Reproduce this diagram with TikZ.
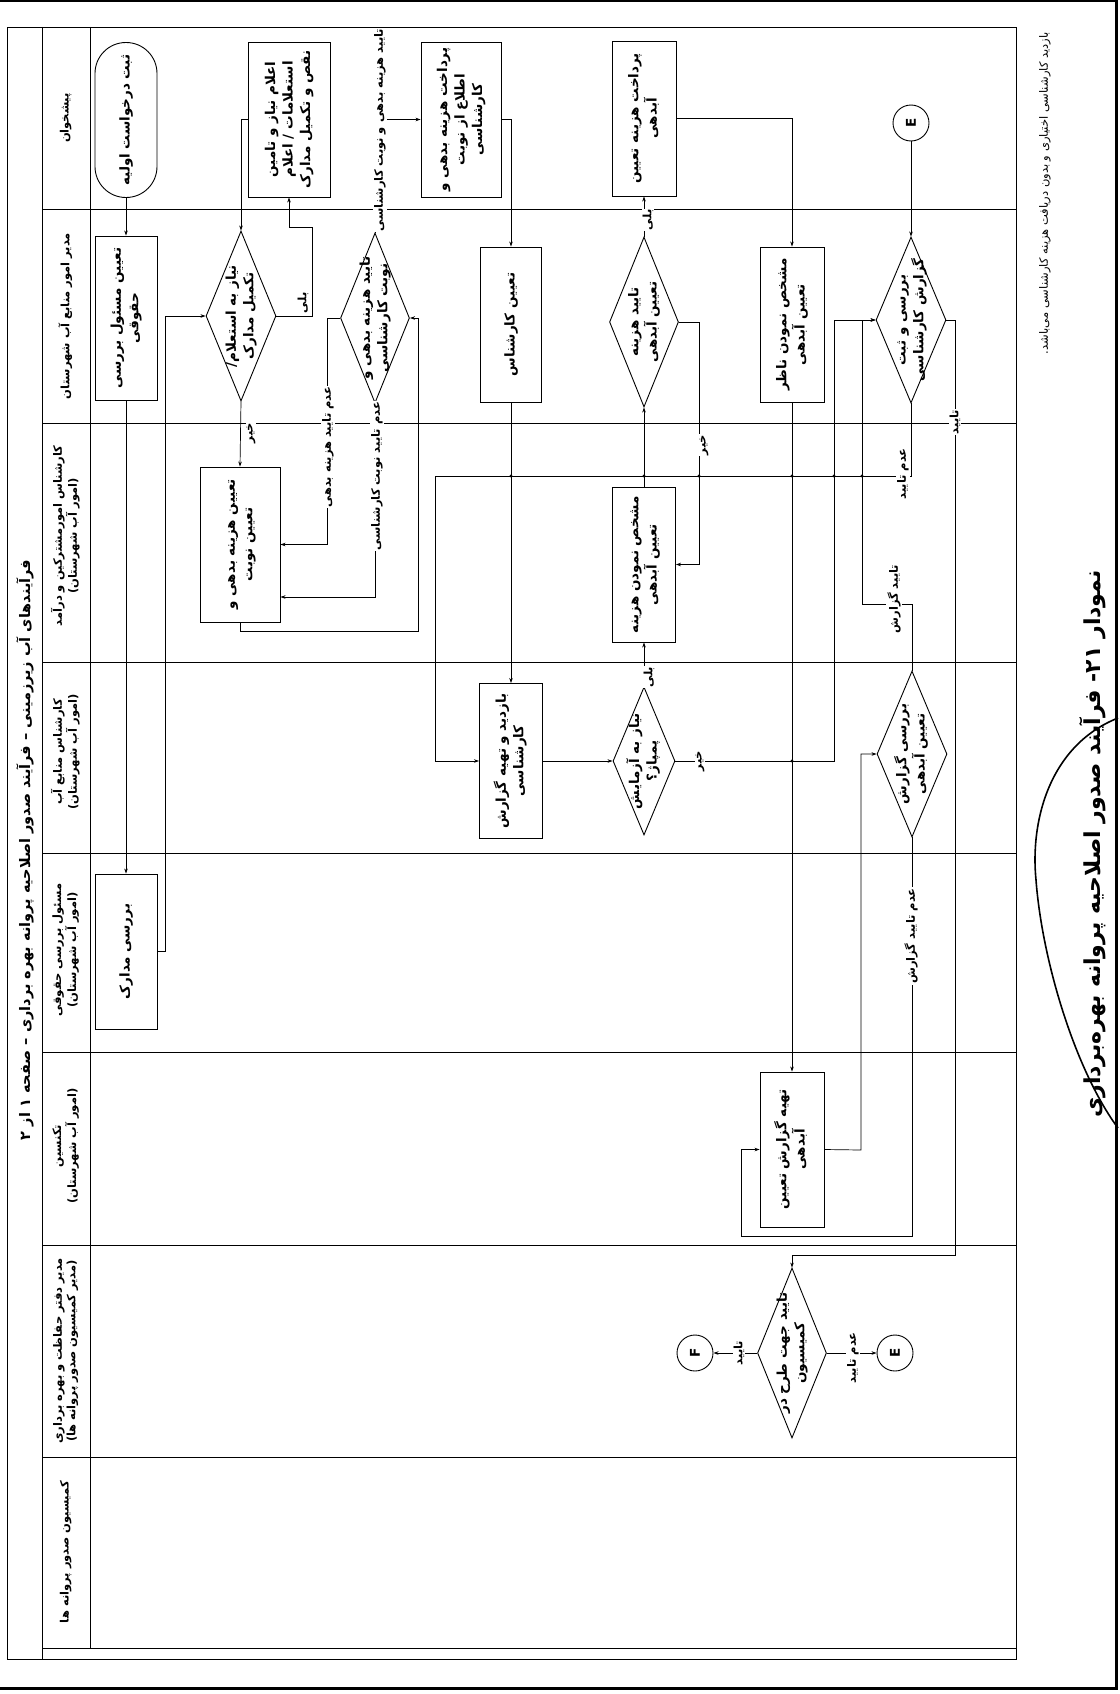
\documentclass[tikz,border=0pt]{standalone}
\usepackage{fontspec}
\usepackage{graphicx}
\usetikzlibrary{shapes.geometric,arrows.meta}
\TeXXeTstate=1
\newfontfamily\fafont[Script=Arabic]{DejaVu Sans}
\newcommand{\fl}[1]{\beginR #1\endR}
\newcommand{\rt}[1]{\rotatebox{90}{\begin{tabular}{@{}c@{}}#1\end{tabular}}}
\newcommand{\boxfont}{\fafont\bfseries\fontsize{13.5}{17.5}\selectfont}
\newcommand{\hdrfont}{\fafont\bfseries\fontsize{11.5}{13.5}\selectfont}
\newcommand{\lblfont}{\fafont\bfseries\fontsize{11.5}{13}\selectfont}
\tikzset{
  frame/.style={line width=0.8pt},
  pageb/.style={line width=3pt},
  box/.style={draw, rectangle, inner sep=0pt, line width=0.9pt},
  dia/.style={draw, diamond, inner sep=0pt, line width=0.9pt},
  cir/.style={draw, circle, minimum size=36pt, inner sep=0pt, line width=0.9pt},
  txt/.style={inner sep=0pt, font=\boxfont},
  hdr/.style={inner sep=0pt, font=\hdrfont},
  lbl/.style={fill=white, inner sep=1pt, font=\lblfont},
  arr/.style={line width=0.7pt, -{Stealth[length=5pt,width=3.5pt]}},
  jdot/.style={fill=black}
}
\begin{document}
\begin{tikzpicture}[x=1pt,y=-1pt]
\useasboundingbox (0,0) rectangle (1119,1694);
% page border
\draw[pageb] (0,1) -- (1116,1) -- (1116,1688) -- (0,1688);
% diagram frame
\draw[frame] (7,27) rectangle (1016,1659);
\draw[frame] (42,27) -- (42,1659);
\draw[frame] (90,27) -- (90,1648);
\foreach \yy in {209,423,662,853,1052,1245,1457,1648}
  \draw[frame] (42,\yy) -- (1016,\yy);
% title
\node[font=\fafont\bfseries\fontsize{14.5}{18}\selectfont, inner sep=0pt] (title) at (25,850)
  {\rotatebox{90}{\fl{فرآیندهای آب زیرزمینی – فرآیند صدور اصلاحیه پروانه بهره برداری – صفحه ۱ از ۲}}};
% lane headers
\node[hdr] (h1) at (66,118) {\rt{\fl{پیشخوان}}};
\node[hdr] (h2) at (66,316) {\rt{\fl{مدیر امور منابع آب شهرستان}}};
\node[hdr] (h3) at (66,536) {\rt{\fl{کارشناس امورمشترکین و درآمد}\\\fl{(امور آب شهرستان)}}};
\node[hdr] (h4) at (66,752) {\rt{\fl{کارشناس منابع آب}\\\fl{(امور آب شهرستان)}}};
\node[hdr] (h5) at (66,950) {\rt{\fl{مسئول بررسی حقوقی}\\\fl{(امور آب شهرستان)}}};
\node[hdr] (h6) at (66,1146) {\rt{\fl{تکنسین}\\\fl{(امور آب شهرستان)}}};
\node[hdr] (h7) at (66,1351) {\rt{\fl{مدیر دفتر حفاظت و بهره برداری}\\\fl{(مدیر کمیسیون صدور پروانه ها)}}};
\node[hdr] (h8) at (66,1552) {\rt{\fl{کمیسیون صدور پروانه ها}}};

% shapes
\node[box, rounded corners=30.9pt, minimum width=62pt, minimum height=155pt] (start) at (126,120) {};
\node[box, minimum width=82pt, minimum height=155pt] (b_req) at (289,119.5) {};
\node[box, minimum width=80pt, minimum height=155pt] (b_pay1) at (461,119.5) {};
\node[box, minimum width=64pt, minimum height=155pt] (b_pay2) at (644,118.5) {};
\node[cir] (cE1) at (911,123) {};
\node[box, minimum width=62pt, minimum height=164pt] (b_assign) at (126,318) {};
\node[dia, minimum width=70pt, minimum height=170pt] (d_need) at (241,316) {};
\node[dia, minimum width=69pt, minimum height=170pt] (d_ok1) at (375,318) {};
\node[box, minimum width=61pt, minimum height=155pt] (b_exp) at (511,324.5) {};
\node[dia, minimum width=69pt, minimum height=170pt] (d_ok2) at (644,322) {};
\node[box, minimum width=64pt, minimum height=155pt] (b_sup) at (792,324.5) {};
\node[dia, minimum width=70pt, minimum height=166pt] (d_reg) at (911,320) {};
\node[box, minimum width=80pt, minimum height=155pt] (b_debt) at (240,544.5) {};
\node[box, minimum width=63pt, minimum height=155pt] (b_cost) at (644,564.5) {};
\node[box, minimum width=63pt, minimum height=155pt] (b_visit) at (511,761) {};
\node[dia, minimum width=62pt, minimum height=148pt] (d_pump) at (644,761) {};
\node[dia, minimum width=70pt, minimum height=166pt] (d_rep) at (912,754) {};
\node[box, minimum width=62pt, minimum height=155pt] (b_docs) at (126,951.5) {};
\node[box, minimum width=64pt, minimum height=155pt] (b_prep) at (792,1149.5) {};
\node[dia, minimum width=69pt, minimum height=170pt] (d_com) at (792,1353) {};
\node[cir] (cF) at (695,1353) {};
\node[cir] (cE2) at (895,1353) {};

% shape texts
\node[txt] (t_start) at (start.center) {\rt{\fl{ثبت درخواست اولیه}}};
\node[txt] (t_req) at (b_req.center) {\rt{\fl{اعلام نیاز و تامین}\\\fl{استعلامات / اعلام}\\\fl{نقص و تکمیل مدارک}}};
\node[txt] (t_pay1) at (b_pay1.center) {\rt{\fl{پرداخت هزینه بدهی و}\\\fl{اطلاع از نوبت}\\\fl{کارشناسی}}};
\node[txt] (t_pay2) at (b_pay2.center) {\rt{\fl{پرداخت هزینه تعیین}\\\fl{آبدهی}}};
\node[txt] (t_E1) at (cE1.center) {\rotatebox{90}{E}};
\node[txt] (t_assign) at (b_assign.center) {\rt{\fl{تعیین مسئول بررسی}\\\fl{حقوقی}}};
\node[txt] (t_need) at (d_need.center) {\rt{\fl{نیاز به استعلام/}\\\fl{تکمیل مدارک}}};
\node[txt] (t_ok1) at (d_ok1.center) {\rt{\fl{تایید هزینه بدهی و}\\\fl{نوبت کارشناسی}}};
\node[txt] (t_exp) at (b_exp.center) {\rt{\fl{تعیین کارشناس}}};
\node[txt] (t_ok2) at (d_ok2.center) {\rt{\fl{تایید هزینه}\\\fl{تعیین آبدهی}}};
\node[txt] (t_sup) at (b_sup.center) {\rt{\fl{مشخص نمودن ناظر}\\\fl{تعیین آبدهی}}};
\node[txt] (t_reg) at (d_reg.center) {\rt{\fl{بررسی و ثبت}\\\fl{گزارش کارشناسی}}};
\node[txt] (t_debt) at (b_debt.center) {\rt{\fl{تعیین هزینه بدهی و}\\\fl{تعیین نوبت}}};
\node[txt] (t_cost) at (b_cost.center) {\rt{\fl{مشخص نمودن هزینه}\\\fl{تعیین آبدهی}}};
\node[txt] (t_visit) at (b_visit.center) {\rt{\fl{بازدید و تهیه گزارش}\\\fl{کارشناسی}}};
\node[txt] (t_pump) at (d_pump.center) {\rt{\fl{نیاز به آزمایش}\\\fl{پمپاژ؟}}};
\node[txt] (t_rep) at (d_rep.center) {\rt{\fl{بررسی گزارش}\\\fl{تعیین آبدهی}}};
\node[txt] (t_docs) at (b_docs.center) {\rt{\fl{بررسی مدارک}}};
\node[txt] (t_prep) at (b_prep.center) {\rt{\fl{تهیه گزارش تعیین}\\\fl{آبدهی}}};
\node[txt] (t_com) at (d_com.center) {\rt{\fl{تایید جهت طرح در}\\\fl{کمیسیون}}};
\node[txt] (t_F) at (cF.center) {\rotatebox{90}{F}};
\node[txt] (t_E2) at (cE2.center) {\rotatebox{90}{E}};

% connectors
\draw[arr] (start.south) -- (b_assign.north);
\draw[arr] (b_assign.south) -- (b_docs.north);
\draw[arr] (b_docs.east) -- ++(8,0) |- (d_need.west);
\draw[arr] (d_need.east) -- (312,316) -- (312,227) -- (289,227) -- (b_req.south);
\draw[arr] (d_need.south) -- (b_debt.north);
\draw[arr] (b_req.west) -| (d_need.north);
\draw[arr] (d_ok1.west) -- (327,318) |- (b_debt.east);
\draw[arr] (d_ok1.south) |- ([yshift=-52.5pt]b_debt.east);
\draw[arr] (b_debt.south) -- ++(0,9) -| (418,318) -- (d_ok1.east);
\draw[arr] (d_ok1.north) |- (b_pay1.west);
\draw[arr] (b_pay1.east) -| (b_exp.north);
\draw[arr] (b_exp.south) -- (b_visit.north);
\draw[arr] (d_reg.south) |- (435,476) |- (b_visit.west);
\draw[arr] (b_visit.east) -- (d_pump.west);
\draw[arr] (d_pump.north) -- (b_cost.south);
\draw[arr] (d_pump.east) -- (834,761) |- (d_reg.west);
\draw[arr] (b_cost.north) -- (d_ok2.south);
\draw[arr] (d_ok2.north) -- (b_pay2.south);
\draw[arr] (d_ok2.east) -- (699,322) |- (b_cost.east);
\draw[arr] (b_pay2.east) -| (b_sup.north);
\draw[arr] (b_sup.south) -- (b_prep.north);
\draw[arr] (cE1.south) -- (d_reg.north);
\draw[arr] (d_reg.east) -| (955,1255) -| (d_com.north);
\draw[arr] (d_rep.north) |- (862,604) |- (d_reg.west);
\draw[arr] (b_prep.east) -- (861,1150) |- (d_rep.west);
\draw[arr] (d_rep.south) |- (741,1236) |- (b_prep.west);
\draw[arr] (d_com.west) -- (cF.east);
\draw[arr] (d_com.east) -- (cE2.west);
% crossing dots
\foreach \cx/\cy in {511/476,644/476,699/476,792/476,834/476,862/476,792/761}
  \fill[jdot] (\cx,\cy) circle (1.7pt);

% connector labels
\node[lbl] (l1) at (303,303) {\rotatebox{90}{\fl{بلی}}};
\node[lbl] (l2) at (251,433) {\rotatebox{90}{\fl{خیر}}};
\node[lbl] (l3) at (328,447) {\rotatebox{90}{\fl{عدم تایید هزینه بدهی}}};
\node[lbl] (l4) at (377,476) {\rotatebox{90}{\fl{عدم تایید نوبت کارشناسی}}};
\node[lbl] (l5) at (380,130) {\rotatebox{90}{\fl{تایید هزینه بدهی و نوبت کارشناسی}}};
\node[lbl] (l6) at (903,474) {\rotatebox{90}{\fl{عدم تایید}}};
\node[lbl] (l7) at (649,677) {\rotatebox{90}{\fl{بلی}}};
\node[lbl] (l8) at (700,761) {\rotatebox{90}{\fl{خیر}}};
\node[lbl] (l9) at (648,220) {\rotatebox{90}{\fl{بلی}}};
\node[lbl] (l10) at (704,445) {\rotatebox{90}{\fl{خیر}}};
\node[lbl] (l11) at (955,422) {\rotatebox{90}{\fl{تایید}}};
\node[lbl] (l12) at (894,599) {\rotatebox{90}{\fl{تایید گزارش}}};
\node[lbl] (l13) at (911,936) {\rotatebox{90}{\fl{عدم تایید گزارش}}};
\node[lbl] (l14) at (739,1353) {\rotatebox{90}{\fl{تایید}}};
\node[lbl] (l15) at (853,1358) {\rotatebox{90}{\fl{عدم تایید}}};

% footnote and caption
\node[font=\fafont\fontsize{11.5}{13}\selectfont, inner sep=0pt, anchor=north] (note) at (1045,32)
  {\rotatebox{90}{\fl{بازدید کارشناسی اختیاری و بدون دریافت هزینه کارشناسی می‌باشد.}}};
\node[font=\fafont\bfseries\fontsize{22}{25}\selectfont, inner sep=0pt] (cap) at (1093,844)
  {\rotatebox{90}{\fl{نمودار ۲۱- فرآیند صدور اصلاحیه پروانه بهره‌برداری}}};
\draw[line width=1.6pt] (1118,718) .. controls (1050,745) and (1030,820) .. (1036,880)
  .. controls (1042,960) and (1075,1070) .. (1118,1128);
\end{tikzpicture}
\end{document}
